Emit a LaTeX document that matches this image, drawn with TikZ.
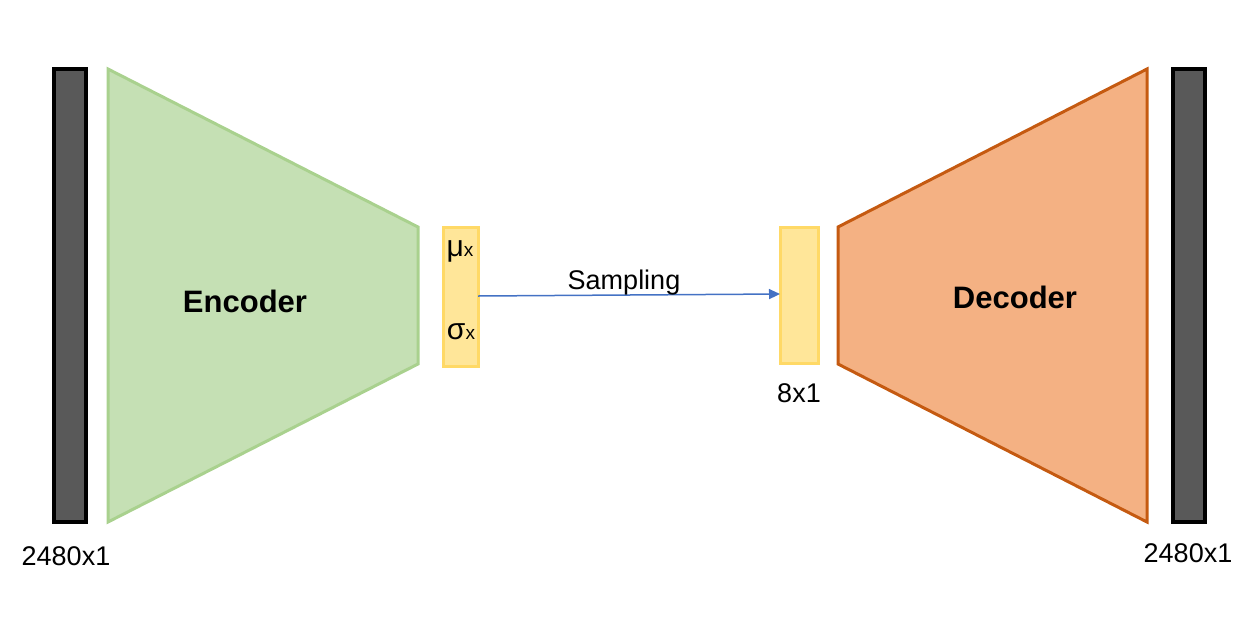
\documentclass[tikz,border=0pt]{standalone}
\usepackage{fontspec}
\setmainfont{Liberation Sans}
\usetikzlibrary{arrows.meta}
\definecolor{bargray}{HTML}{595959}
\definecolor{encfill}{HTML}{C5E0B4}
\definecolor{encline}{HTML}{A9D18E}
\definecolor{decfill}{HTML}{F4B183}
\definecolor{decline}{HTML}{C55A11}
\definecolor{latfill}{HTML}{FFE699}
\definecolor{latline}{HTML}{FFD966}
\definecolor{arrblue}{HTML}{4472C4}
\tikzset{
  bar/.style={draw=black, fill=bargray, line width=4pt},
  enc/.style={draw=encline, fill=encfill, line width=3pt, line join=miter},
  dec/.style={draw=decline, fill=decfill, line width=3pt, line join=miter},
  latent/.style={draw=latline, fill=latfill, line width=3pt},
  lbl/.style={font=\fontsize{27}{30}\selectfont, inner sep=0pt},
  greek/.style={font=\fontsize{30}{32}\selectfont, inner sep=0pt},
  big/.style={font=\fontsize{31}{34}\selectfont\bfseries, inner sep=0pt},
}
\begin{document}
\begin{tikzpicture}[x=1pt,y=-1pt]
\useasboundingbox (0,0) rectangle (1255,622);
% bars
\draw[bar] (54,69) rectangle (86,522);
\draw[bar] (1173,69) rectangle (1205,522);
% encoder / decoder
\draw[enc] (108,69) -- (418,227) -- (418,364) -- (108,522) -- cycle;
\draw[dec] (838,227) -- (1147,69) -- (1147,522) -- (838,364) -- cycle;
\node[big] (enc) at (245,301) {Encoder};
\node[big] (dec) at (1015,297) {Decoder};
% latent boxes
\draw[latent] (443,227) rectangle (478,366);
\coordinate (mustart) at (478,296);
\node[greek] (mu) at (460,251) {μ\fontsize{19}{20}\selectfont x};
\node[greek] (sig) at (461,332) {σ\fontsize{19}{20}\selectfont x};
\draw[latent] (780,227) rectangle (818,363);
\coordinate (zend) at (780,294);
\node[lbl] (z) at (799,393) {8x1};
% arrow
\draw[arrblue, line width=1.5pt, -{Triangle[length=11pt,width=10pt]}] (mustart) -- (zend);
\node[lbl] (samp) at (624,283) {Sampling};
% dimension labels
\node[lbl] (lin) at (66,556) {2480x1};
\node[lbl] (lout) at (1188,553) {2480x1};
\end{tikzpicture}
\end{document}
